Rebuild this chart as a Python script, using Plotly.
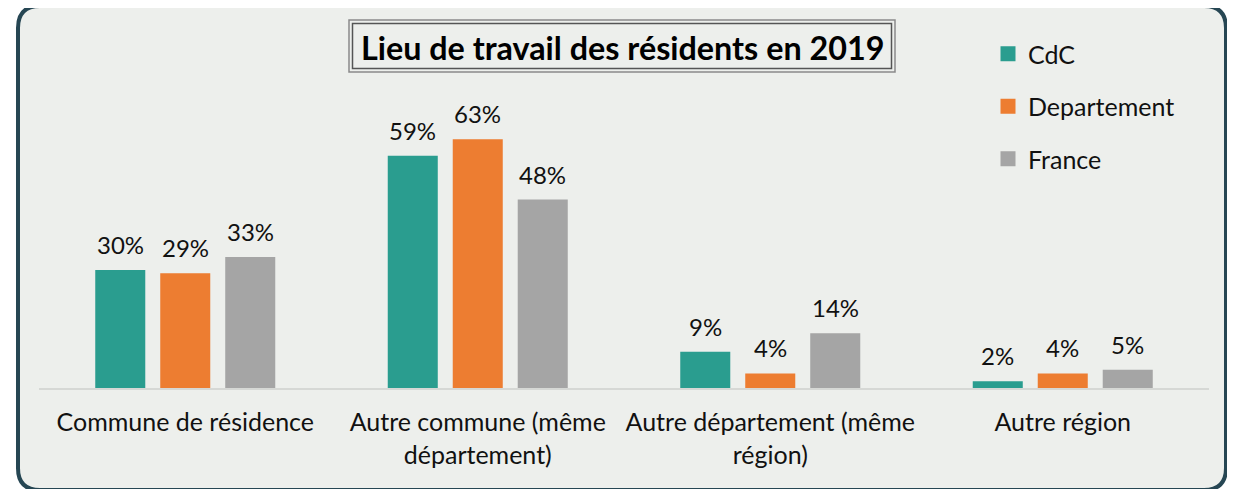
import plotly.graph_objects as go

# ---- data ----
categories = ["Commune de résidence", "Autre commune (même<br>département)",
              "Autre département (même<br>région)", "Autre région"]
series_names = ["CdC", "Departement", "France"]
cdc = [0.299, 0.589, 0.092, 0.017]
departement = [0.291, 0.631, 0.037, 0.037]
france = [0.332, 0.478, 0.139, 0.046]
colors = ["#2a9d8f", "#ed7d31", "#a5a5a5"]
title_text = "Lieu de travail des résidents en 2019"

# ---- geometry (page pixels; the page body has an 8px margin) ----
W, H = 1235, 489
OFF = 8
L, R, T, B = 39, 1209, 112, 388
FONT = "Lato"


def px2x(p):
    return (p - L) / (R - L)


def px2y(p):
    return (B - p) / (B - T)


fig = go.Figure()
values = [cdc, departement, france]
xs = list(range(len(categories)))
bar_w = 0.171
offs = [-0.2222, 0.0, 0.2222]
annotations = []
for j, (name, vals) in enumerate(zip(series_names, values)):
    xpos = [x + offs[j] for x in xs]
    fig.add_trace(go.Bar(x=xpos, y=vals, width=bar_w, name=name,
                         marker=dict(color=colors[j], line=dict(width=0)),
                         showlegend=False, hoverinfo="skip"))
    fig.add_trace(go.Scatter(x=[None], y=[None], mode="markers", name=name,
                             legendgroup=name,
                             marker=dict(symbol="square", size=15, color=colors[j])))
    for xp, v in zip(xpos, vals):
        annotations.append(dict(x=xp, y=v, xref="x", yref="y", text=f"{v:.0%}",
                                showarrow=False, yanchor="bottom", yshift=9,
                                font=dict(family=FONT, size=24, color="#111111")))

# title
annotations.append(dict(x=px2x(622), y=px2y(47), xref="paper", yref="paper",
                        text="<b>" + title_text + "</b>", showarrow=False,
                        xanchor="center", yanchor="middle",
                        font=dict(family=FONT, size=32.3, color="#000000")))


def rect(x0, y0, x1, y1, color, width, fill=None):
    return dict(type="rect", xref="paper", yref="paper",
                x0=px2x(x0), x1=px2x(x1), y0=px2y(y0), y1=px2y(y1),
                line=dict(color=color, width=width),
                fillcolor=fill if fill else "rgba(0,0,0,0)", layer="below")


# rounded outer frame
x0, x1, y0, y1, r = 18, 1226, 6, 490, 22
pts = [("M", x0 + r, y0), ("L", x1 - r, y0), ("Q", x1, y0, x1, y0 + r),
       ("L", x1, y1 - r), ("Q", x1, y1, x1 - r, y1), ("L", x0 + r, y1),
       ("Q", x0, y1, x0, y1 - r), ("L", x0, y0 + r), ("Q", x0, y0, x0 + r, y0)]
path = ""
for p in pts:
    cmd = p[0]
    coords = p[1:]
    parts = []
    for k in range(0, len(coords), 2):
        parts.append(f"{px2x(coords[k]):.5f},{px2y(coords[k+1]):.5f}")
    path += cmd + " ".join(parts) + " "
path += "Z"

shapes = [
    dict(type="path", xref="paper", yref="paper", path=path,
         fillcolor="#edefec", line=dict(color="#264653", width=4), layer="below"),
    rect(349, 20, 895, 72, "#8a8a8a", 1.5),
    rect(352.5, 23.5, 891.5, 68.5, "#555555", 1.5),
]

fig.update_layout(
    width=W, height=H,
    margin=dict(l=L - OFF, r=W - R + OFF, t=T - OFF, b=H - B + OFF, autoexpand=False),
    paper_bgcolor="#ffffff", plot_bgcolor="rgba(0,0,0,0)",
    barmode="overlay",
    font=dict(family=FONT, size=25, color="#111111"),
    xaxis=dict(range=[-0.5, 3.5], tickvals=xs, ticktext=categories,
               showgrid=False, zeroline=False, showline=True,
               linecolor="#d6d8d5", linewidth=2,
               ticks="outside", ticklen=11, tickcolor="rgba(0,0,0,0)",
               tickfont=dict(family=FONT, size=25, color="#111111"),
               tickangle=0),
    yaxis=dict(range=[0, 0.70], visible=False, showgrid=False),
    legend=dict(x=px2x(988), y=px2y(31), xanchor="left", yanchor="top",
                bgcolor="rgba(0,0,0,0)", tracegroupgap=17,
                font=dict(family=FONT, size=25, color="#111111")),
    annotations=annotations,
    shapes=shapes,
)

fig.write_html("out.html")
